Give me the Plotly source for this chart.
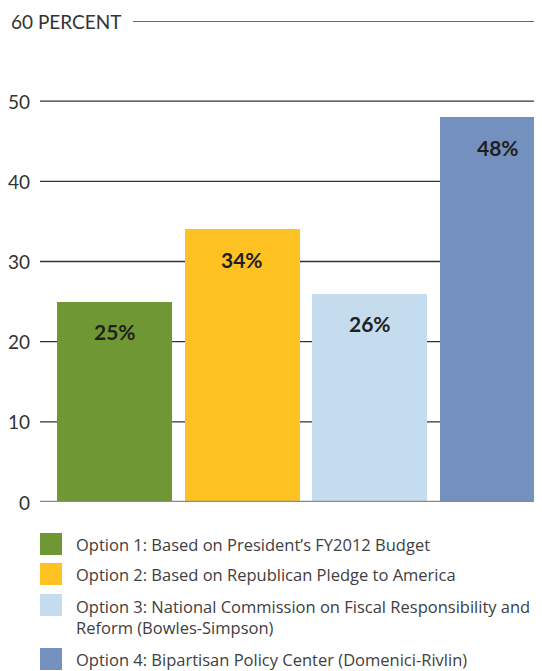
import plotly.graph_objects as go

# ---- data ----
categories = ["Option 1", "Option 2", "Option 3", "Option 4"]
values = [25, 34, 26, 48]
bar_labels = ["25%", "34%", "26%", "48%"]
colors = ["#6f9835", "#fec222", "#c5dcef", "#7390bf"]
legend_texts = [
    "Option 1: Based on President\u2019s FY2012 Budget",
    "Option 2: Based on Republican Pledge to America",
    "Option 3: National Commission on Fiscal Responsibility and<br>Reform (Bowles-Simpson)",
    "Option 4: Bipartisan Policy Center (Domenici-Rivlin)",
]
y_ticks = [0, 10, 20, 30, 40, 50, 60]
y_tick_labels = ["0", "10", "20", "30", "40", "50", "60 PERCENT"]

# page body has an 8px margin; work in window pixels and convert
O = 8
WIN_W, WIN_H = 542, 671
W, H = WIN_W - O, WIN_H - O
# plot area in window pixels: x 40..542, y 21..502
PL, PR, PT, PB = 40, 542, 21, 502
ML, MR, MT, MB = PL - O, WIN_W - PR, PT - O, WIN_H - PB
plot_w = PR - PL
plot_h = PB - PT

def px_x(p):  # window pixel -> paper x
    return (p - PL) / plot_w

def px_y(p):  # window pixel (from top) -> paper y
    return (PB - p) / plot_h

FONT = "Lato"
LEG_FONT = "Open Sans"

fig = go.Figure()
fig.add_trace(go.Bar(
    x=list(range(len(categories))),
    y=values,
    marker=dict(color=colors, line=dict(width=0)),
    width=0.9,
    showlegend=False,
    hoverinfo="skip",
))

shapes = []
annotations = []

# gridlines and y labels
for v, lab in zip(y_ticks, y_tick_labels):
    if v == 0:
        shapes.append(dict(type="line", xref="paper", yref="y", x0=0, x1=1, y0=v, y1=v,
                           line=dict(color="#8a8a8a", width=2.5), layer="above"))
        annotations.append(dict(xref="paper", yref="y", x=0, y=v, text=lab, showarrow=False,
                                xanchor="right", yanchor="middle", xshift=-8,
                                font=dict(family=FONT, size=19, color="#333333")))
    elif v == 60:
        shapes.append(dict(type="line", xref="paper", yref="y", x0=px_x(133), x1=1, y0=v, y1=v,
                           line=dict(color="#333333", width=1.3), layer="below"))
        annotations.append(dict(xref="paper", yref="y", x=px_x(9), y=v, text=lab, showarrow=False,
                                xanchor="left", yanchor="middle",
                                font=dict(family=FONT, size=19, color="#333333")))
    else:
        shapes.append(dict(type="line", xref="paper", yref="y", x0=0, x1=1, y0=v, y1=v,
                           line=dict(color="#333333", width=1.3), layer="below"))
        annotations.append(dict(xref="paper", yref="y", x=0, y=v, text=lab, showarrow=False,
                                xanchor="right", yanchor="middle", xshift=-8,
                                font=dict(family=FONT, size=19, color="#333333")))

# bar value labels
for i, (v, lab) in enumerate(zip(values, bar_labels)):
    annotations.append(dict(xref="x", yref="y", x=i, y=v, text="<b>" + lab + "</b>", showarrow=False,
                            xanchor="center", yanchor="middle", yshift=-30,
                            font=dict(family=FONT, size=21, color="#231f20")))

# custom legend
sq_tops = [533, 563, 594, 648]
txt_centers = [544, 574, 617, 659]
for c, t, top, tc in zip(colors, legend_texts, sq_tops, txt_centers):
    shapes.append(dict(type="rect", xref="paper", yref="paper",
                       x0=px_x(40), x1=px_x(62), y0=px_y(top + 22), y1=px_y(top),
                       fillcolor=c, line=dict(width=0)))
    annotations.append(dict(xref="paper", yref="paper", x=px_x(74), y=px_y(tc), text=t,
                            showarrow=False, xanchor="left", yanchor="middle", align="left",
                            font=dict(family=LEG_FONT, size=16.5, color="#404040")))

fig.update_layout(
    width=W, height=H,
    margin=dict(l=ML, r=MR, t=MT, b=MB, pad=0),
    paper_bgcolor="white", plot_bgcolor="white",
    xaxis=dict(range=[-0.5835, 3.3485], showgrid=False, zeroline=False, showticklabels=False,
               showline=False, ticks="", fixedrange=True),
    yaxis=dict(range=[0, 60], showgrid=False, zeroline=False, showticklabels=False,
               showline=False, ticks="", fixedrange=True),
    shapes=shapes,
    annotations=annotations,
    bargap=0,
    showlegend=False,
)

fig.write_html("out.html")
